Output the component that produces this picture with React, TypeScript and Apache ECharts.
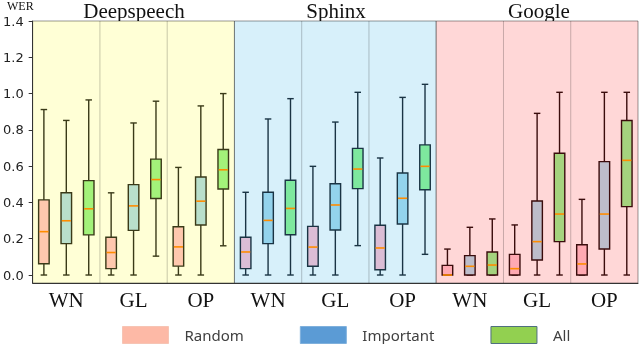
import React, { useEffect, useRef } from "react";
import * as echarts from "echarts";

const engines = ["Deepspeech", "Sphinx", "Google"];
const methods = ["WN", "GL", "OP"];
const seriesNames = ["Random", "Important", "All"];
const yTicks = [0, 0.2, 0.4, 0.6, 0.8, 1.0, 1.2, 1.4];

// [min, q1, median, q3, max] per engine x method
const randomStats = [
  [0, 0.062, 0.239, 0.414, 0.912],
  [0, 0.035, 0.124, 0.208, 0.453],
  [0, 0.049, 0.155, 0.266, 0.593],
  [0, 0.035, 0.127, 0.208, 0.456],
  [0, 0.048, 0.154, 0.268, 0.599],
  [0, 0.029, 0.149, 0.274, 0.645],
  [0, 0, 0, 0.053, 0.143],
  [0, 0, 0.035, 0.114, 0.276],
  [0, 0, 0.061, 0.167, 0.417],
];
const importantStats = [
  [0, 0.173, 0.299, 0.453, 0.852],
  [0, 0.246, 0.381, 0.498, 0.838],
  [0, 0.276, 0.407, 0.54, 0.932],
  [0, 0.173, 0.301, 0.456, 0.86],
  [0, 0.248, 0.386, 0.503, 0.843],
  [0, 0.281, 0.423, 0.562, 0.979],
  [0, 0, 0.048, 0.107, 0.263],
  [0, 0.083, 0.184, 0.408, 0.891],
  [0, 0.143, 0.336, 0.625, 1.007],
];
const allStats = [
  [0, 0.221, 0.365, 0.52, 0.965],
  [0.104, 0.422, 0.526, 0.639, 0.958],
  [0.161, 0.474, 0.58, 0.692, 1.0],
  [0, 0.222, 0.367, 0.522, 0.972],
  [0.162, 0.476, 0.584, 0.698, 1.007],
  [0.114, 0.47, 0.599, 0.717, 1.051],
  [0, 0, 0.055, 0.127, 0.309],
  [0, 0.184, 0.336, 0.671, 1.007],
  [0, 0.377, 0.632, 0.852, 1.007],
];

const fillColors = [
  ["#ffc8ae", "#b9dfcb", "#a3f27a"],
  ["#dbbdd5", "#93d3ec", "#7ee89e"],
  ["#ffa9b2", "#bdbdca", "#a5d37e"],
];
const strokeColors = ["#3a3a18", "#1a3444", "#3a0c0c"];
const panelColors = ["#ffffd6", "#d7f0fa", "#ffd7d7"];
const legendColors = [
  ["#fdb9a6", "#f6c4b4"],
  ["#5b9bd5", "#7fb0dc"],
  ["#92d050", "#4f6f7f"],
];

const xLabels = engines.flatMap(() => methods);
const slotLabels = xLabels.flatMap((m, k) => seriesNames.map((s) => `${k}-${m}-${s}`));
const panelData = engines.map((_, p) => [p * 9, p * 9 + 8, p]);

function makeBoxRender(j: number) {
  return (params: any, api: any) => {
    const xi = api.value(0);
    const panel = Math.floor(params.dataIndex / 3);
    const [cx, yMin] = api.coord([xi, api.value(1)]);
    const yQ1 = api.coord([xi, api.value(2)])[1];
    const yMed = api.coord([xi, api.value(3)])[1];
    const yQ3 = api.coord([xi, api.value(4)])[1];
    const yMax = api.coord([xi, api.value(5)])[1];
    const band = api.size([1, 0])[0];
    const bw = band * 0.47;
    const cw = band * 0.29;
    const stroke = strokeColors[panel];
    const ls = { stroke, lineWidth: 1.4 };
    return {
      type: "group",
      children: [
        { type: "line", shape: { x1: cx, y1: yMax, x2: cx, y2: yQ3 }, style: ls },
        { type: "line", shape: { x1: cx, y1: yQ1, x2: cx, y2: yMin }, style: ls },
        { type: "line", shape: { x1: cx - cw / 2, y1: yMax, x2: cx + cw / 2, y2: yMax }, style: ls },
        { type: "line", shape: { x1: cx - cw / 2, y1: yMin, x2: cx + cw / 2, y2: yMin }, style: ls },
        {
          type: "rect",
          shape: { x: cx - bw / 2, y: yQ3, width: bw, height: Math.max(yQ1 - yQ3, 0.5) },
          style: { fill: fillColors[panel][j], stroke, lineWidth: 1.4 },
        },
        {
          type: "line",
          shape: { x1: cx - bw / 2 + 0.7, y1: yMed, x2: cx + bw / 2 - 0.7, y2: yMed },
          style: { stroke: "#ff8c00", lineWidth: 1.6 },
        },
      ],
    };
  };
}

function panelRender(params: any, api: any) {
  const cs = params.coordSys;
  const half = api.size([1, 0])[0] / 2;
  const x0 = api.coord([api.value(0), 0])[0] - half;
  const x1 = api.coord([api.value(1), 0])[0] + half;
  const p = api.value(2);
  const w = x1 - x0;
  const lineStyle = { stroke: "rgba(0,0,0,0.22)", lineWidth: 1 };
  return {
    type: "group",
    children: [
      {
        type: "rect",
        shape: { x: x0, y: cs.y, width: w, height: cs.height },
        style: { fill: panelColors[p], stroke: "rgba(0,0,0,0.4)", lineWidth: 1 },
      },
      { type: "line", shape: { x1: x0 + w / 3, y1: cs.y, x2: x0 + w / 3, y2: cs.y + cs.height }, style: lineStyle },
      { type: "line", shape: { x1: x0 + (2 * w) / 3, y1: cs.y, x2: x0 + (2 * w) / 3, y2: cs.y + cs.height }, style: lineStyle },
    ],
  };
}

export default function App() {
  const ref = useRef<HTMLDivElement>(null);
  useEffect(() => {
    if (!ref.current) return;
    const chart = echarts.init(ref.current, null, { renderer: "svg" });
    const statsList = [randomStats, importantStats, allStats];
    const titleX = [134, 336, 539];
    const option: any = {
      animation: false,
      grid: { left: 28, right: 2, top: 21, bottom: 61 },
      legend: {
        left: 122,
        top: 326,
        padding: 0,
        itemWidth: 46,
        itemHeight: 17,
        itemGap: 56,
        icon: "rect",
        selectedMode: false,
        data: seriesNames.map((n, i) => ({
          name: n,
          itemStyle: { color: legendColors[i][0], borderColor: legendColors[i][1], borderWidth: 1 },
        })),
        textStyle: { fontFamily: "Noto Sans", fontSize: 15, color: "#404040", padding: [0, 0, 0, 11] },
      },
      xAxis: [
        { type: "category", data: slotLabels, show: false, gridIndex: 0 },
        {
          type: "category",
          data: xLabels,
          position: "bottom",
          z: 10,
          axisLine: { lineStyle: { color: "#333", width: 1 } },
          axisTick: { length: 6, interval: 0, lineStyle: { color: "#333" } },
          axisLabel: {
            interval: 0,
            fontFamily: "Liberation Serif",
            fontSize: 21,
            color: "#111",
            margin: 17,
            verticalAlign: "middle",
          },
          splitLine: { show: false },
        },
      ],
      yAxis: {
        type: "value",
        min: -0.044,
        max: 1.4,
        z: 10,
        axisLine: { show: true, lineStyle: { color: "#333" } },
        axisTick: { show: true, length: 4, customValues: yTicks, lineStyle: { color: "#333" } },
        axisLabel: {
          customValues: yTicks,
          formatter: (v: number) => v.toFixed(1),
          fontFamily: "DejaVu Sans",
          fontSize: 13,
          color: "#222",
          margin: 9,
        },
        splitLine: { show: false },
      },
      graphic: [
        {
          type: "text",
          x: 7,
          y: 0,
          style: { text: "WER", fontFamily: "Liberation Serif", fontSize: 12, fill: "#111" },
        },
        ...engines.map((e, i) => ({
          type: "text",
          x: titleX[i],
          y: 11,
          style: {
            text: e,
            fontFamily: "Liberation Serif",
            fontSize: 21,
            fill: "#111",
            align: "center",
            verticalAlign: "middle",
          },
        })),
      ],
      series: [
        {
          name: "panels",
          type: "custom",
          xAxisIndex: 0,
          z: 1,
          silent: true,
          renderItem: panelRender,
          encode: { x: [0, 1], y: 2 },
          data: panelData,
        },
        ...seriesNames.map((name, j) => ({
          name,
          type: "custom",
          xAxisIndex: 0,
          z: 3,
          renderItem: makeBoxRender(j),
          encode: { x: 0, y: [1, 2, 3, 4, 5] },
          data: statsList[j].map((s, k) => [3 * k + j, ...s]),
        })),
      ],
    };
    chart.setOption(option);
    return () => chart.dispose();
  }, []);
  return <div ref={ref} style={{ position: "fixed", left: 0, top: 0, width: 640, height: 344 }} />;
}
